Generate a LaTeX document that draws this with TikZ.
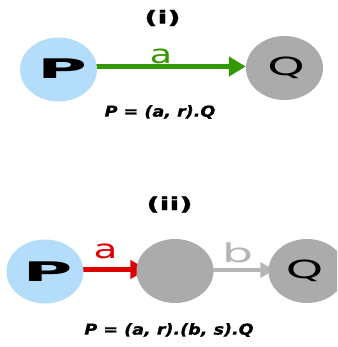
\documentclass[tikz,border=0pt]{standalone}
\usepackage{fontspec}
\setmainfont{DejaVu Sans}
\newfontfamily\ftitle{DejaVu Sans Bold}[FakeBold=1]
\newfontfamily\fboldit{DejaVu Sans Bold Oblique}[FakeBold=1]
\usetikzlibrary{shapes.geometric,arrows.meta,backgrounds}
\definecolor{pblue}{HTML}{B3DDFA}
\definecolor{sgrey}{HTML}{ABABAB}
\definecolor{agreen}{HTML}{339900}
\definecolor{ared}{HTML}{DD0000}
\definecolor{agrey}{HTML}{B5B5B5}
\tikzset{
  state/.style={ellipse, draw=none, inner sep=0pt, minimum width=77pt, minimum height=64pt},
  pstate/.style={state, fill=pblue},
  gstate/.style={state, fill=sgrey},
  ptext/.style={inner sep=0pt, font=\fontsize{27}{27}\selectfont\bfseries},
  qtext/.style={inner sep=0pt, font=\fontsize{25}{25}\selectfont},
  ttl/.style={inner sep=0pt, font=\fontsize{18}{18}\ftitle},
  formula/.style={inner sep=0pt, font=\fontsize{15}{15}\fboldit},
  alabel/.style={inner sep=0pt, font=\fontsize{26}{26}\selectfont},
}
\begin{document}
\begin{tikzpicture}[x=1pt,y=-1pt]
\useasboundingbox (0,0) rectangle (337,347);
\clip (0,0) rectangle (337,347);
% panel (i)
\node[ttl] (t1) at (162.5,18) {\scalebox{1.6}[1]{(i)}};
\node[pstate, label={[ptext, xshift=3.5pt, yshift=1pt]center:\scalebox{2.5}[1]{P}}] (P1) at (58.5,69.5) {};
\node[gstate, label={[qtext, xshift=1.5pt, yshift=0.5pt]center:\scalebox{1.9}[1]{Q}}] (Q1) at (284.5,68) {};
\node[alabel, text=agreen] (la1) at (161,56) {\scalebox{1.4}[1]{a}};
\node[formula] (f1) at (160,112) {\scalebox{1.17}[1]{P = (a, r).Q}};
\begin{scope}[on background layer]
\draw[agreen, line width=5pt, -{Triangle[length=17pt,width=19pt]}] ([yshift=3pt]P1.center) -- ([yshift=1.5pt]Q1.west);
\end{scope}
% panel (ii)
\node[ttl] (t2) at (169.5,204.5) {\scalebox{1.6}[1]{(ii)}};
\node[pstate, label={[ptext, xshift=2.5pt]center:\scalebox{2.5}[1]{P}}] (P2) at (45,271.5) {};
\node[gstate] (M2) at (175,271) {};
\node[gstate, label={[qtext, xshift=-2.5pt, yshift=0.5pt]center:\scalebox{1.9}[1]{Q}}] (Q2) at (307,271) {};
\node[alabel, text=ared] (la2) at (105.5,251.5) {\scalebox{1.5}[1]{a}};
\node[alabel, text=agrey] (lb2) at (237.5,252.5) {\scalebox{1.9}[1]{b}};
\node[formula] (f2) at (169,330) {\scalebox{1.17}[1]{P = (a, r).(b, s).Q}};
\begin{scope}[on background layer]
\draw[ared, line width=5pt, -{Triangle[length=17pt,width=18pt]}] ([yshift=2pt]P2.center) -- ([xshift=11pt,yshift=1.5pt]M2.west);
\draw[agrey, line width=4pt, -{Triangle[length=14pt,width=15pt]}] ([yshift=1pt]M2.center) -- ([xshift=6pt,yshift=1pt]Q2.west);
\end{scope}
\end{tikzpicture}
\end{document}
